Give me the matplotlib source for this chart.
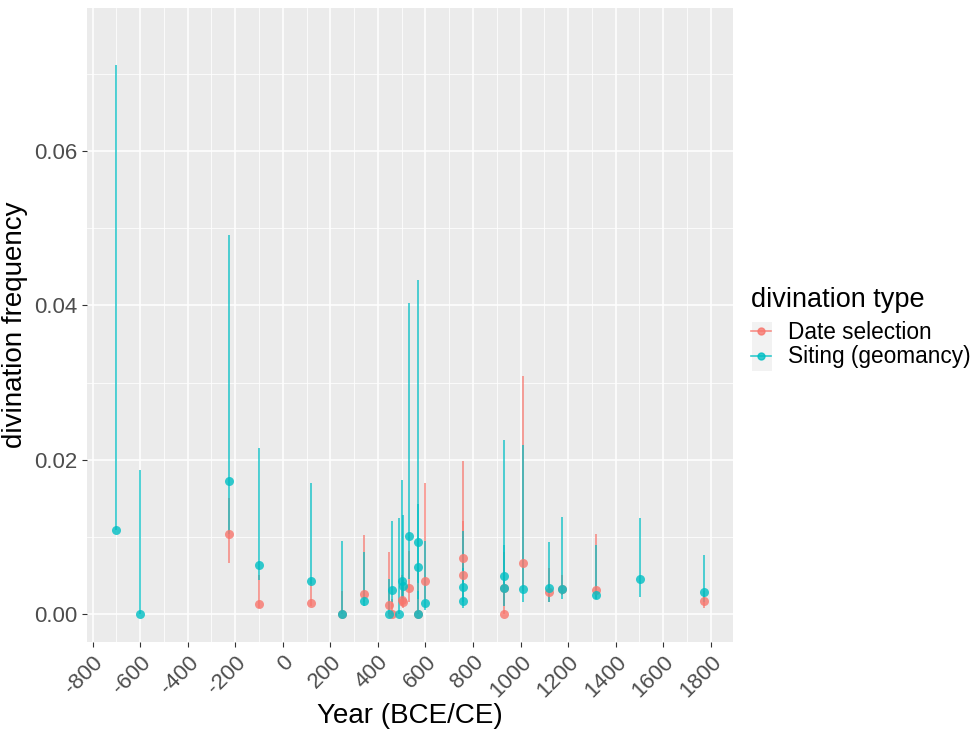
import matplotlib.pyplot as plt
from matplotlib.lines import Line2D
from matplotlib.patches import Rectangle
from matplotlib.ticker import MultipleLocator, FormatStrFormatter

# Date selection (red)
date_years = [-225, -100, 120, 248, 342, 448, 460, 500, 505, 529, 569, 598,
              759, 759, 930, 930, 1011, 1119, 1173, 1319, 1770]
date_freq = [0.0104, 0.0013, 0.0014, 0.0, 0.0026, 0.0012, 0.0, 0.0018, 0.0015,
             0.0034, 0.0, 0.0043, 0.0072, 0.0050, 0.0, 0.0034, 0.0066, 0.0029,
             0.0032, 0.0031, 0.0017]
date_low = [0.0066, 0.0008, 0.0010, 0.0, 0.0015, 0.0005, 0.0, 0.0010, 0.0008,
            0.0015, 0.0, 0.0020, 0.0030, 0.0020, 0.0, 0.0010, 0.0030, 0.0015,
            0.0025, 0.0020, 0.0008]
date_high = [0.0150, 0.0050, 0.0045, 0.0030, 0.0102, 0.0081, 0.0020, 0.0050,
             0.0045, 0.0082, 0.0061, 0.0170, 0.0198, 0.0120, 0.0035, 0.0080,
             0.0308, 0.0060, 0.0050, 0.0104, 0.0030]

# Siting / geomancy (cyan)
siting_years = [-700, -600, -225, -100, 120, 248, 342, 448, 460, 490, 500, 505,
                529, 569, 569, 569, 598, 759, 759, 930, 930, 1011, 1119, 1173,
                1319, 1504, 1770]
siting_freq = [0.0109, 0.0, 0.0173, 0.0064, 0.0043, 0.0, 0.0017, 0.0, 0.0031,
               0.0, 0.0043, 0.0036, 0.0101, 0.0093, 0.0061, 0.0, 0.0014, 0.0035,
               0.0017, 0.0049, 0.0034, 0.0033, 0.0034, 0.0032, 0.0024, 0.0045,
               0.0028]
siting_low = [0.0109, 0.0, 0.0104, 0.0044, 0.0039, 0.0, 0.0010, 0.0, 0.0015,
              0.0, 0.0020, 0.0015, 0.0045, 0.0040, 0.0020, 0.0, 0.0005, 0.0015,
              0.0008, 0.0035, 0.0010, 0.0015, 0.0015, 0.0020, 0.0019, 0.0022,
              0.0015]
siting_high = [0.0711, 0.0187, 0.0491, 0.0215, 0.0170, 0.0095, 0.0080, 0.0045,
               0.0121, 0.0125, 0.0174, 0.0128, 0.0403, 0.0433, 0.0142, 0.0030,
               0.0095, 0.0108, 0.0060, 0.0226, 0.0090, 0.0219, 0.0093, 0.0126,
               0.0090, 0.0125, 0.0077]

red = '#F8766D'
cyan = '#00BFC4'

plt.rcParams['font.family'] = ['Liberation Sans', 'DejaVu Sans']
plt.rcParams['axes.unicode_minus'] = False

fig = plt.figure(figsize=(9.72, 7.29), dpi=100)
ax = fig.add_axes([87 / 972, 1 - 642 / 729, (733 - 87) / 972, (642 - 8) / 729])
ax.set_facecolor('#EBEBEB')

for years, freq, low, high, col in [
        (date_years, date_freq, date_low, date_high, red),
        (siting_years, siting_freq, siting_low, siting_high, cyan)]:
    ax.vlines(years, low, high, colors=col, linewidth=1.2, alpha=0.8, zorder=3)
    ax.plot(years, freq, 'o', color=col, markersize=6.5, alpha=0.8,
            markeredgewidth=0, zorder=4)

ax.set_xlim(-823.5, 1893.5)
ax.set_ylim(-0.00363, 0.07855)
ax.xaxis.set_major_locator(MultipleLocator(200))
ax.xaxis.set_minor_locator(MultipleLocator(100))
ax.yaxis.set_major_locator(MultipleLocator(0.02))
ax.yaxis.set_minor_locator(MultipleLocator(0.01))
ax.yaxis.set_major_formatter(FormatStrFormatter('%.2f'))

ax.grid(which='major', color='white', linewidth=1.1)
ax.grid(which='minor', color='white', linewidth=0.55)
ax.set_axisbelow(True)
for s in ax.spines.values():
    s.set_visible(False)

ax.tick_params(which='major', length=3.5, color='#333333', labelsize=16,
               labelcolor='#4D4D4D', width=0.8)
ax.tick_params(which='minor', length=0)
plt.setp(ax.get_xticklabels(), rotation=45, ha='right', rotation_mode='anchor')

ax.set_xlabel('Year (BCE/CE)', fontsize=20, labelpad=1)
ax.set_ylabel('divination frequency', fontsize=20, labelpad=4)

# grey legend key background, like ggplot
fig.patches.append(Rectangle((752 / 972, 1 - 371 / 729), 20 / 972, 49 / 729,
                             transform=fig.transFigure, facecolor='#F2F2F2',
                             edgecolor='none', zorder=0))

handles = [Line2D([0], [0], color=red, marker='o', markersize=5, linewidth=1.2, alpha=0.8),
           Line2D([0], [0], color=cyan, marker='o', markersize=5, linewidth=1.2, alpha=0.8)]
leg = fig.legend(handles, ['Date selection', 'Siting (geomancy)'],
                 title='divination type', loc='upper left',
                 bbox_to_anchor=(751 / 972, 1 - 287 / 729), frameon=False,
                 fontsize=16.3, title_fontsize=19.5, handlelength=0.9,
                 handletextpad=0.75, labelspacing=0.05, borderaxespad=0,
                 borderpad=0)
leg._legend_box.align = 'left'
leg._legend_box.sep = 6

fig.savefig('out.png', dpi=100)
